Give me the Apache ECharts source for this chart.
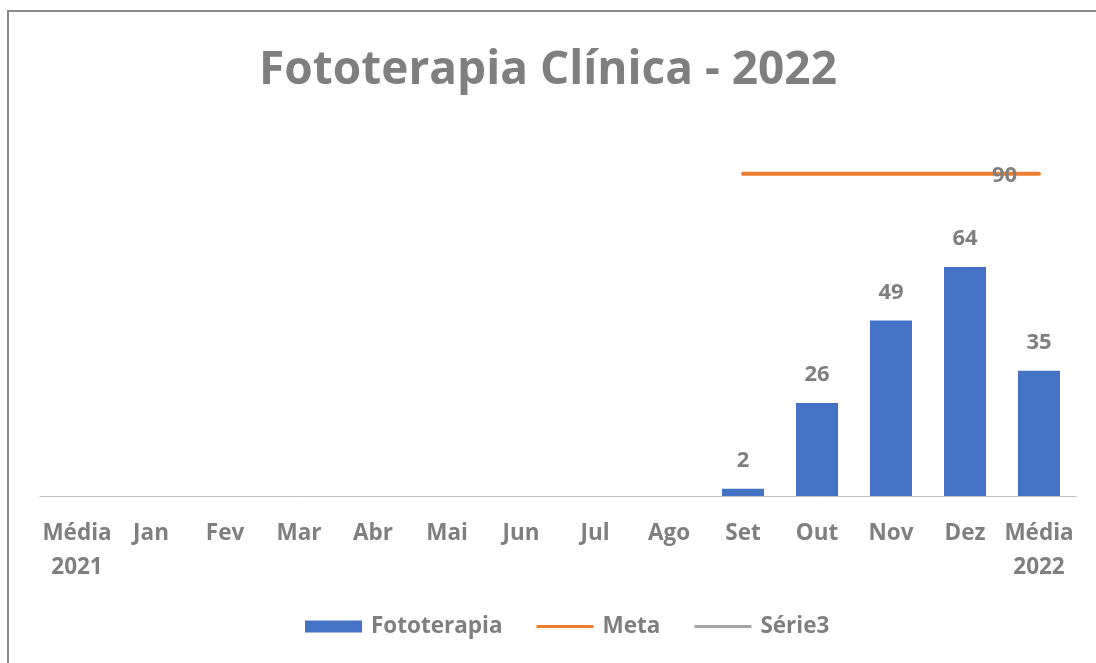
<!DOCTYPE html>
<html>
<head>
<meta charset="utf-8">
<script src="https://cdn.jsdelivr.net/npm/echarts@6/dist/echarts.min.js"></script>
<style>
  html, body { margin: 0; padding: 0; background: #fff; width: 1096px; height: 663px; overflow: hidden; }
  #frame { position: absolute; left: 7px; top: 10px; width: 1200px; height: 800px; border: 2px solid #8c8c8c; box-sizing: border-box; }
  #chart { position: absolute; left: 0; top: 0; width: 1096px; height: 663px; }
</style>
</head>
<body>
<div id="frame"></div>
<div id="chart"></div>
<script>
const categories = ['Média\n2021', 'Jan', 'Fev', 'Mar', 'Abr', 'Mai', 'Jun', 'Jul', 'Ago', 'Set', 'Out', 'Nov', 'Dez', 'Média\n2022'];
const fototerapia = [null, null, null, null, null, null, null, null, null, 2, 26, 49, 64, 35];
const meta = [null, null, null, null, null, null, null, null, null, 90, 90, 90, 90, 90];
const serie3 = [null, null, null, null, null, null, null, null, null, null, null, null, null, null];
const yMax = 100;

const FONT = '"Open Sans", "Noto Sans", sans-serif';
const GRAY = '#7f7f7f';
const LINE_ICON = 'path://M0,0L0,0Z M0,4.5L57,4.5L57,7.5L0,7.5Z M0,12L0,12Z';
const chart = echarts.init(document.getElementById('chart'));
chart.setOption({
  animation: false,
  title: {
    text: 'Fototerapia Clínica - 2022',
    left: 'center',
    top: 43,
    textStyle: { fontFamily: FONT, fontSize: 46, fontWeight: 'bold', color: GRAY }
  },
  legend: {
    bottom: 20,
    left: 300,
    itemGap: 34,
    itemWidth: 57,
    itemHeight: 12,
    textStyle: { fontFamily: FONT, fontSize: 22.5, fontWeight: 'bold', color: GRAY, padding: [0, 0, 0, 4] },
    data: [
      { name: 'Fototerapia', icon: 'rect' },
      { name: 'Meta', icon: LINE_ICON, itemStyle: { color: '#ED7D31' } },
      { name: 'Série3', icon: LINE_ICON, itemStyle: { color: '#A5A5A5' } }
    ]
  },
  grid: { left: 40, right: 20, top: 138, bottom: 167 },
  xAxis: {
    type: 'category',
    data: categories,
    axisLine: { lineStyle: { color: '#bfbfbf', width: 1 } },
    axisTick: { show: false },
    axisLabel: {
      interval: 0,
      margin: 21,
      fontFamily: FONT, fontSize: 22.5, fontWeight: 'bold', color: GRAY,
      lineHeight: 34
    }
  },
  yAxis: {
    type: 'value', min: 0, max: yMax, show: false,
    splitLine: { show: false }
  },
  series: [
    {
      name: 'Fototerapia',
      type: 'bar',
      data: fototerapia,
      barWidth: 42,
      itemStyle: { color: '#4472C4' },
      label: {
        show: true, position: 'top', distance: 17,
        fontFamily: FONT, fontSize: 22, fontWeight: 'bold', color: GRAY
      }
    },
    {
      name: 'Meta',
      type: 'line',
      data: meta,
      symbol: 'none',
      showSymbol: false,
      lineStyle: { color: '#ED7D31', width: 4, cap: 'round' },
      itemStyle: { color: '#ED7D31' },
      endLabel: {
        show: true,
        formatter: '{c}',
        fontFamily: FONT, fontSize: 22, fontWeight: 'bold', color: GRAY,
        offset: [-55, 2]
      },
      z: 3
    },
    {
      name: 'Série3',
      type: 'line',
      data: serie3,
      symbol: 'none',
      lineStyle: { color: '#A5A5A5', width: 4 },
      itemStyle: { color: '#A5A5A5' }
    }
  ]
});
</script>
</body>
</html>
